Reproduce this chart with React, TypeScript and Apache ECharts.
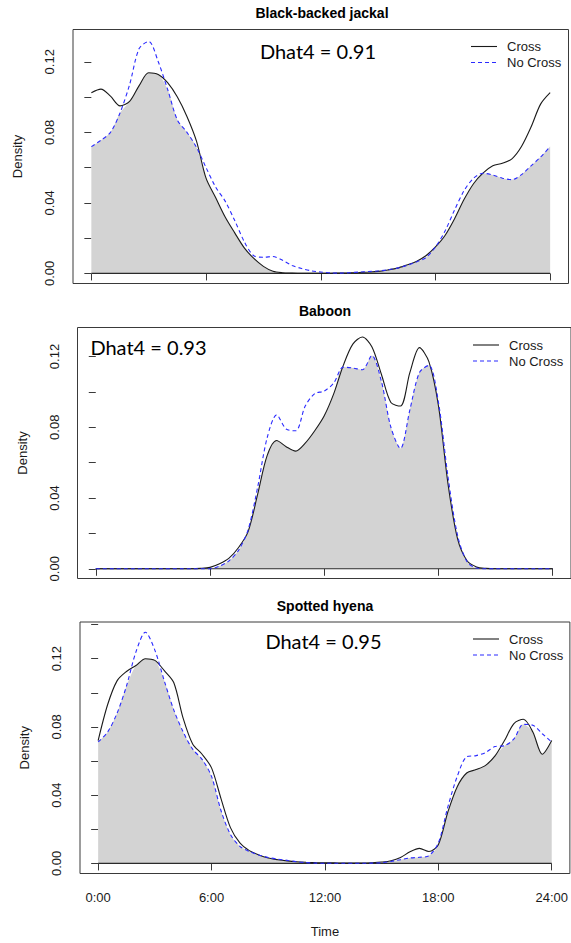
import React, { useEffect, useRef } from "react";
import * as echarts from "echarts";

// Time of day (hours)
const hours = [0, 0.5, 1, 1.5, 2, 2.5, 3, 3.5, 4, 4.5, 5, 5.5, 6, 6.5, 7, 7.5, 8, 8.5, 9, 9.5, 10, 10.5, 11, 11.5, 12, 12.5, 13, 13.5, 14, 14.5, 15, 15.5, 16, 16.5, 17, 17.5, 18, 18.5, 19, 19.5, 20, 20.5, 21, 21.5, 22, 22.5, 23, 23.5, 24];

const xTicks = [0, 6, 12, 18, 24];
const yTicksA = [0, 0.02, 0.04, 0.06, 0.08, 0.1, 0.12];
const yTicksB = [0, 0.02, 0.04, 0.06, 0.08, 0.1, 0.12, 0.14];
const yLabels = [0, 0.04, 0.08, 0.12];

const jackalCross = [0.1025, 0.1045, 0.1005, 0.095, 0.0975, 0.1065, 0.1138, 0.1128, 0.108, 0.1, 0.089, 0.075, 0.054, 0.043, 0.032, 0.023, 0.0145, 0.0085, 0.004, 0.0012, 0.0004, 0.0002, 0.0001, 0.0001, 0.0001, 0.0001, 0.0002, 0.0003, 0.0005, 0.0008, 0.0012, 0.002, 0.003, 0.0048, 0.0068, 0.01, 0.015, 0.0215, 0.031, 0.042, 0.051, 0.057, 0.061, 0.0625, 0.065, 0.072, 0.083, 0.096, 0.1025];
const jackalNoCross = [0.0719, 0.0755, 0.08, 0.091, 0.107, 0.1275, 0.1315, 0.12, 0.104, 0.087, 0.08, 0.0715, 0.06, 0.049, 0.041, 0.03, 0.018, 0.01, 0.0092, 0.0096, 0.0075, 0.0045, 0.0028, 0.0015, 0.0008, 0.0003, 0.0002, 0.0004, 0.0008, 0.0011, 0.0014, 0.002, 0.003, 0.0045, 0.0065, 0.009, 0.015, 0.024, 0.036, 0.047, 0.054, 0.0568, 0.0558, 0.054, 0.0532, 0.056, 0.061, 0.066, 0.0719];

const baboonCross = [0, 0, 0, 0, 0, 0, 0, 0, 0, 0, 0, 0.0002, 0.0008, 0.0028, 0.006, 0.012, 0.021, 0.042, 0.064, 0.0725, 0.069, 0.0665, 0.071, 0.078, 0.0865, 0.099, 0.115, 0.127, 0.131, 0.1255, 0.11, 0.094, 0.092, 0.111, 0.125, 0.117, 0.092, 0.048, 0.017, 0.0045, 0.001, 0.0002, 0, 0, 0, 0, 0, 0, 0];
const baboonNoCross = [0, 0, 0, 0, 0, 0, 0, 0, 0, 0, 0, 0, 0, 0.0015, 0.0045, 0.0105, 0.022, 0.046, 0.074, 0.087, 0.079, 0.078, 0.092, 0.099, 0.1005, 0.105, 0.114, 0.1135, 0.1125, 0.1205, 0.106, 0.08, 0.068, 0.09, 0.111, 0.115, 0.094, 0.052, 0.019, 0.004, 0.0004, 0, 0, 0, 0, 0, 0, 0, 0];

const hyenaCross = [0.072, 0.093, 0.107, 0.1125, 0.116, 0.12, 0.119, 0.113, 0.106, 0.085, 0.07, 0.064, 0.056, 0.038, 0.021, 0.012, 0.0075, 0.005, 0.0032, 0.0022, 0.0015, 0.001, 0.0007, 0.0005, 0.0004, 0.0003, 0.0002, 0.0002, 0.0002, 0.0004, 0.0008, 0.0016, 0.0035, 0.0068, 0.0088, 0.007, 0.011, 0.03, 0.045, 0.053, 0.055, 0.0575, 0.063, 0.072, 0.082, 0.0845, 0.077, 0.064, 0.072];
const hyenaNoCross = [0.0712, 0.077, 0.088, 0.104, 0.124, 0.1355, 0.125, 0.107, 0.09, 0.077, 0.067, 0.061, 0.051, 0.031, 0.017, 0.01, 0.007, 0.005, 0.0035, 0.0025, 0.0018, 0.001, 0.0005, 0.0002, 0.0001, 0.0001, 0.0001, 0.0001, 0.0001, 0.0002, 0.0004, 0.0012, 0.0022, 0.0032, 0.0036, 0.0045, 0.012, 0.033, 0.051, 0.0625, 0.0632, 0.065, 0.0685, 0.069, 0.073, 0.0815, 0.081, 0.076, 0.0712];

const titles = ["Black-backed jackal", "Baboon", "Spotted hyena"];
const dhatTexts = ["Dhat4 = 0.91", "Dhat4 = 0.93", "Dhat4 = 0.95"];
const seriesNames = ["Cross", "No Cross"];
const crossSets = [jackalCross, baboonCross, hyenaCross];
const noCrossSets = [jackalNoCross, baboonNoCross, hyenaNoCross];

// layout (pixels)
const layouts = [
  { left: 73, top: 29.5, width: 495.5, height: 254, yMin: -0.0057, yMax: 0.1383, ticks: yTicksA, titleX: 322, titleY: 5.5, dhatX: 318, dhatY: 51, legX: 471, legY: 39.5 },
  { left: 77.5, top: 327.5, width: 495, height: 251, yMin: -0.0055, yMax: 0.1364, ticks: yTicksA, titleX: 325, titleY: 303.5, dhatX: 148.5, dhatY: 346.5, legX: 473, legY: 338 },
  { left: 80, top: 622, width: 492, height: 251.5, yMin: -0.0059, yMax: 0.1415, ticks: yTicksB, titleX: 325, titleY: 598.5, dhatX: 323.5, dhatY: 641, legX: 473, legY: 632 },
];

const FONT = "'Liberation Sans', Arial, sans-serif";
const TXT = "#1a1a1a";
const CROSS_COLOR = "#1a1a1a";
const NOCROSS_COLOR = "#2b2bff";

export default function App() {
  const ref = useRef<HTMLDivElement>(null);

  useEffect(() => {
    if (!ref.current) return;
    const chart = echarts.init(ref.current, undefined, { renderer: "svg" });

    const grid: any[] = [];
    const xAxis: any[] = [];
    const yAxis: any[] = [];
    const series: any[] = [];
    const title: any[] = [];
    const graphic: any[] = [];

    layouts.forEach((L, i) => {
      const cross = crossSets[i];
      const noCross = noCrossSets[i];
      const overlap = hours.map((h, k) => [h, Math.min(cross[k], noCross[k])]);
      const isLast = i === layouts.length - 1;

      grid.push({
        left: L.left,
        top: L.top,
        width: L.width,
        height: L.height,
        show: true,
        borderColor: "#3a3a3a",
        borderWidth: 1,
        backgroundColor: "transparent",
        containLabel: false,
      });

      xAxis.push({
        type: "value",
        gridIndex: i,
        min: -0.96,
        max: 24.96,
        axisLine: { show: false },
        splitLine: { show: false },
        axisTick: {
          show: true,
          length: 7,
          customValues: xTicks,
          lineStyle: { color: "#3a3a3a", width: 1 },
        },
        axisLabel: isLast
          ? {
              show: true,
              customValues: xTicks,
              formatter: (v: number) => `${v}:00`,
              fontSize: 13,
              fontFamily: FONT,
              color: TXT,
              margin: 17,
            }
          : { show: false },
        name: isLast ? "Time" : "",
        nameLocation: "middle",
        nameGap: 51,
        nameTextStyle: { fontSize: 13, fontFamily: FONT, color: TXT },
      });

      yAxis.push({
        type: "value",
        gridIndex: i,
        min: L.yMin,
        max: L.yMax,
        axisLine: { show: false },
        splitLine: { show: false },
        axisTick: {
          show: true,
          length: 7,
          customValues: L.ticks,
          lineStyle: { color: "#3a3a3a", width: 1 },
        },
        axisLabel: {
          show: true,
          customValues: yLabels,
          rotate: 90,
          formatter: (v: number) => v.toFixed(2),
          fontSize: 13,
          fontFamily: FONT,
          color: TXT,
          margin: 17,
        },
        name: "Density",
        nameLocation: "middle",
        nameGap: 49,
        nameTextStyle: { fontSize: 13, fontFamily: FONT, color: TXT },
      });

      series.push({
        name: "overlap",
        type: "line",
        xAxisIndex: i,
        yAxisIndex: i,
        data: overlap,
        smooth: 0.3,
        symbol: "none",
        silent: true,
        lineStyle: { width: 0, opacity: 0 },
        areaStyle: { color: "#d3d3d3", opacity: 1, origin: 0 },
        z: 1,
      });
      series.push({
        name: "baseline",
        type: "line",
        xAxisIndex: i,
        yAxisIndex: i,
        data: [
          [hours[0], 0],
          [hours[hours.length - 1], 0],
        ],
        symbol: "none",
        silent: true,
        lineStyle: { color: "#2a2a2a", width: 1.2 },
        z: 2,
      });
      series.push({
        name: seriesNames[0],
        type: "line",
        xAxisIndex: i,
        yAxisIndex: i,
        data: hours.map((h, k) => [h, cross[k]]),
        smooth: 0.3,
        symbol: "none",
        clip: false,
        lineStyle: { color: CROSS_COLOR, width: 1.1, type: "solid" },
        itemStyle: { color: CROSS_COLOR },
        z: 3,
      });
      series.push({
        name: seriesNames[1],
        type: "line",
        xAxisIndex: i,
        yAxisIndex: i,
        data: hours.map((h, k) => [h, noCross[k]]),
        smooth: 0.3,
        symbol: "none",
        clip: false,
        lineStyle: { color: NOCROSS_COLOR, width: 1.1, type: [4, 3] },
        itemStyle: { color: NOCROSS_COLOR },
        z: 4,
      });

      title.push({
        text: titles[i],
        left: L.titleX,
        top: L.titleY,
        textAlign: "center",
        padding: 0,
        textStyle: { fontSize: 14, fontWeight: "bold", fontFamily: FONT, color: "#000" },
      });

      // legend key (drawn as graphic elements)
      const rowY = [L.legY + 7, L.legY + 23];
      graphic.push({
        type: "group",
        silent: true,
        children: [
          {
            type: "line",
            shape: { x1: L.legX, y1: rowY[0], x2: L.legX + 26, y2: rowY[0] },
            style: { stroke: CROSS_COLOR, lineWidth: 1.1 },
          },
          {
            type: "line",
            shape: { x1: L.legX, y1: rowY[1], x2: L.legX + 26, y2: rowY[1] },
            style: { stroke: NOCROSS_COLOR, lineWidth: 1.1, lineDash: [4, 3] },
          },
          {
            type: "text",
            x: L.legX + 36,
            y: rowY[0],
            style: {
              text: seriesNames[0],
              font: `13px ${FONT}`,
              fill: TXT,
              textAlign: "left",
              textVerticalAlign: "middle",
            },
          },
          {
            type: "text",
            x: L.legX + 36,
            y: rowY[1],
            style: {
              text: seriesNames[1],
              font: `13px ${FONT}`,
              fill: TXT,
              textAlign: "left",
              textVerticalAlign: "middle",
            },
          },
        ],
      });

      graphic.push({
        type: "text",
        x: L.dhatX,
        y: L.dhatY,
        silent: true,
        style: {
          text: dhatTexts[i],
          font: "20px Lato, 'Open Sans', sans-serif",
          fill: "#000",
          textAlign: "center",
          textVerticalAlign: "middle",
        },
      });
    });

    chart.setOption({
      animation: false,
      backgroundColor: "#fff",
      grid,
      xAxis,
      yAxis,
      series,
      title,
      graphic,
    });

    return () => {
      chart.dispose();
    };
  }, []);

  return (
    <div
      ref={ref}
      style={{ position: "absolute", left: 0, top: 0, width: 571, height: 943 }}
    />
  );
}
